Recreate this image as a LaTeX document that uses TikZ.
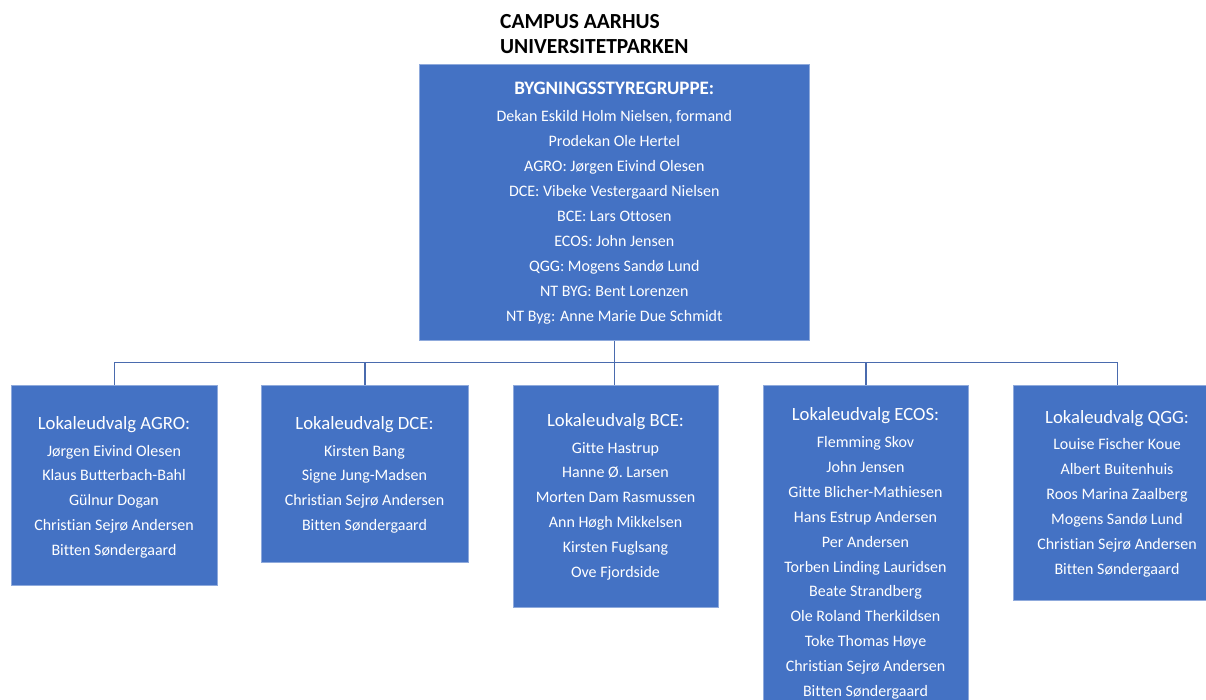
\documentclass[tikz,border=0pt]{standalone}
\usepackage{fontspec}
\setmainfont{Carlito}[Ligatures={NoCommon}]
\definecolor{boxblue}{HTML}{4472C4}
\definecolor{boxedge}{HTML}{8FAADC}
\definecolor{connblue}{HTML}{4A6BAE}
\begin{document}
\begin{tikzpicture}[x=1pt,y=-1pt,
  box/.style={fill=boxblue, draw=boxedge, line width=0.8pt, anchor=north west, inner sep=0},
  lbl/.style={text=white, inner sep=0, anchor=base, font=\fontsize{16}{24.9}\selectfont},
  ttl/.style={text=white, inner sep=0, anchor=base, font=\fontsize{18.7}{22}\selectfont},
  conn/.style={draw=connblue, line width=1.3pt}]
\clip (0,0) rectangle (1206,700);
\fill[white] (0,0) rectangle (1206,700);

% heading
\node[anchor=base west, inner sep=0, font=\bfseries\fontsize{21.5}{25.7}\selectfont] (head) at (500,28.3)
  {\begin{tabular}[t]{@{}l@{}}CAMPUS AARHUS\\UNIVERSITETPARKEN\end{tabular}};

% boxes
\node[box, minimum width=390, minimum height=276] (top) at (419.3,64.3) {};
\node[box, minimum width=206, minimum height=200] (agro) at (11,385) {};
\node[box, minimum width=207, minimum height=177] (dce) at (261,385) {};
\node[box, minimum width=205, minimum height=222] (bce) at (513,385) {};
\node[box, minimum width=205, minimum height=330] (ecos) at (763,385) {};
\node[box, minimum width=208, minimum height=215] (qgg) at (1013,385) {};

% connectors
\coordinate (bus) at (0,362.5);
\draw[conn] (top.south) -- (top.south |- bce.north);
\draw[conn] (agro.north) -- (agro.north |- bus) -- (qgg.north |- bus) -- (qgg.north);
\draw[conn] (dce.north) -- (dce.north |- bus);
\draw[conn] (ecos.north) -- (ecos.north |- bus);

% top box text
\node[text=white, inner sep=0, anchor=base, font=\bfseries\fontsize{19}{22}\selectfont] (topT) at (614.3,94.3) {BYGNINGSSTYREGRUPPE:};
\node[lbl, font=\fontsize{16}{25}\selectfont] (topL) at (614.3,122) {\begin{tabular}[t]{@{}c@{}}
Dekan Eskild Holm Nielsen, formand\\
Prodekan Ole Hertel\\
AGRO: Jørgen Eivind Olesen\\
DCE: Vibeke Vestergaard Nielsen\\
BCE: Lars Ottosen\\
ECOS: John Jensen\\
QGG: Mogens Sandø Lund\\
NT BYG: Bent Lorenzen\\
NT Byg: Anne Marie Due Schmidt
\end{tabular}};

% AGRO
\node[ttl] (agroT) at (114,429) {Lokaleudvalg AGRO:};
\node[lbl] (agroL) at (114,456) {\begin{tabular}[t]{@{}c@{}}
Jørgen Eivind Olesen\\
Klaus Butterbach-Bahl\\
Gülnur Dogan\\
Christian Sejrø Andersen\\
Bitten Søndergaard
\end{tabular}};

% DCE
\node[ttl] (dceT) at (364.5,429) {Lokaleudvalg DCE:};
\node[lbl] (dceL) at (364.5,456) {\begin{tabular}[t]{@{}c@{}}
Kirsten Bang\\
Signe Jung-Madsen\\
Christian Sejrø Andersen\\
Bitten Søndergaard
\end{tabular}};

% BCE
\node[ttl] (bceT) at (615.5,426) {Lokaleudvalg BCE:};
\node[lbl] (bceL) at (615.5,453) {\begin{tabular}[t]{@{}c@{}}
Gitte Hastrup\\
Hanne Ø. Larsen\\
Morten Dam Rasmussen\\
Ann Høgh Mikkelsen\\
Kirsten Fuglsang\\
Ove Fjordside
\end{tabular}};

% ECOS
\node[ttl] (ecosT) at (865.5,420) {Lokaleudvalg ECOS:};
\node[lbl] (ecosL) at (865.5,447.5) {\begin{tabular}[t]{@{}c@{}}
Flemming Skov\\
John Jensen\\
Gitte Blicher-Mathiesen\\
Hans Estrup Andersen\\
Per Andersen\\
Torben Linding Lauridsen\\
Beate Strandberg\\
Ole Roland Therkildsen\\
Toke Thomas Høye\\
Christian Sejrø Andersen\\
Bitten Søndergaard
\end{tabular}};

% QGG
\node[ttl] (qggT) at (1117,423) {Lokaleudvalg QGG:};
\node[lbl] (qggL) at (1117,449.5) {\begin{tabular}[t]{@{}c@{}}
Louise Fischer Koue\\
Albert Buitenhuis\\
Roos Marina Zaalberg\\
Mogens Sandø Lund\\
Christian Sejrø Andersen\\
Bitten Søndergaard
\end{tabular}};
\end{tikzpicture}
\end{document}
